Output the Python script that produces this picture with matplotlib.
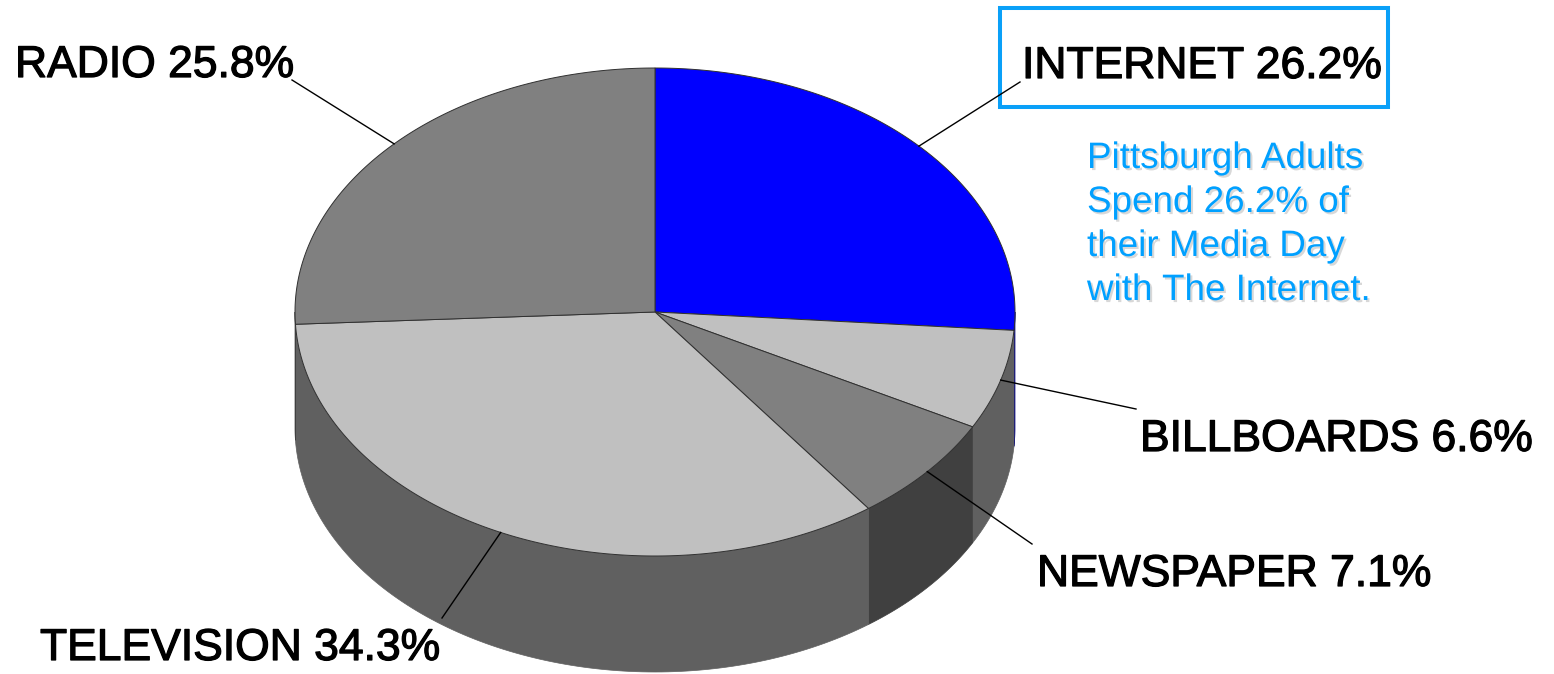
import matplotlib.pyplot as plt
import matplotlib.patheffects as pe
import numpy as np
from matplotlib.patches import Polygon, Rectangle

plt.rcParams['font.family'] = ['Liberation Sans', 'DejaVu Sans']

# share of the media day, clockwise from 12 o'clock
media = ['INTERNET', 'BILLBOARDS', 'NEWSPAPER', 'TELEVISION', 'RADIO']
share = [26.2, 6.6, 7.1, 34.3, 25.8]
top_colors = ['#0000FF', '#C0C0C0', '#808080', '#C0C0C0', '#808080']
side_colors = ['#000080', '#606060', '#404040', '#606060', '#404040']

# label text position (left, baseline) and leader line end, in pixels
label_pos = [(1022, 78), (1140, 451), (1037, 586), (40, 660), (15, 77)]
line_end = [(1020, 82), (1136, 409), (1032, 544), (442, 618), (292, 80)]

note_lines = ['Pittsburgh Adults', 'Spend 26.2% of', 'their Media Day', 'with The Internet.']

cx, cy = 655, 312
rx, ry = 360, 244
depth = 116


def rim(t):
    r = np.radians(t)
    return cx + rx * np.sin(r), cy - ry * np.cos(r)


fig = plt.figure(figsize=(15.54, 6.74), dpi=100)
ax = fig.add_axes([0, 0, 1, 1])
ax.set_xlim(0, 1554)
ax.set_ylim(674, 0)
ax.axis('off')

bounds = np.concatenate([[0], np.cumsum(share)]) / 100 * 360

# side walls, only the front half shows
for i in range(len(share)):
    a0, a1 = max(bounds[i], 90), min(bounds[i + 1], 270)
    if a1 <= a0:
        continue
    t = np.linspace(a0, a1, 120)
    x, y = rim(t)
    pts = np.column_stack([np.r_[x, x[::-1]], np.r_[y, (y + depth)[::-1]]])
    ax.add_patch(Polygon(pts, closed=True, fc=side_colors[i], ec=side_colors[i], lw=0.5))

# top faces
for i in range(len(share)):
    t = np.linspace(bounds[i], bounds[i + 1], 200)
    x, y = rim(t)
    pts = np.column_stack([np.r_[cx, x], np.r_[cy, y]])
    ax.add_patch(Polygon(pts, closed=True, fc=top_colors[i], ec='#303030', lw=0.7))

# labels with leader lines from the middle of each slice
for i in range(len(share)):
    mid = (bounds[i] + bounds[i + 1]) / 2
    sx, sy = rim(mid)
    ex, ey = line_end[i]
    ax.plot([sx, ex], [sy, ey], color='black', lw=1)
    lx, ly = label_pos[i]
    ax.text(lx, ly, f'{media[i]} {share[i]}%', fontsize=32, color='black',
            ha='left', va='baseline',
            path_effects=[pe.withStroke(linewidth=0.9, foreground='black')])

ax.add_patch(Rectangle((1000, 8), 388, 99, fill=False, ec='#0AA0F8', lw=2.9))

for k, line in enumerate(note_lines):
    ax.text(1087, 168 + 44 * k, line, fontsize=26.5, color='#00A0FF',
            ha='left', va='baseline',
            path_effects=[pe.withSimplePatchShadow(offset=(1.5, -1.5),
                                                   shadow_rgbFace='#909090', alpha=0.35)])

fig.savefig('out.png', dpi=100)
